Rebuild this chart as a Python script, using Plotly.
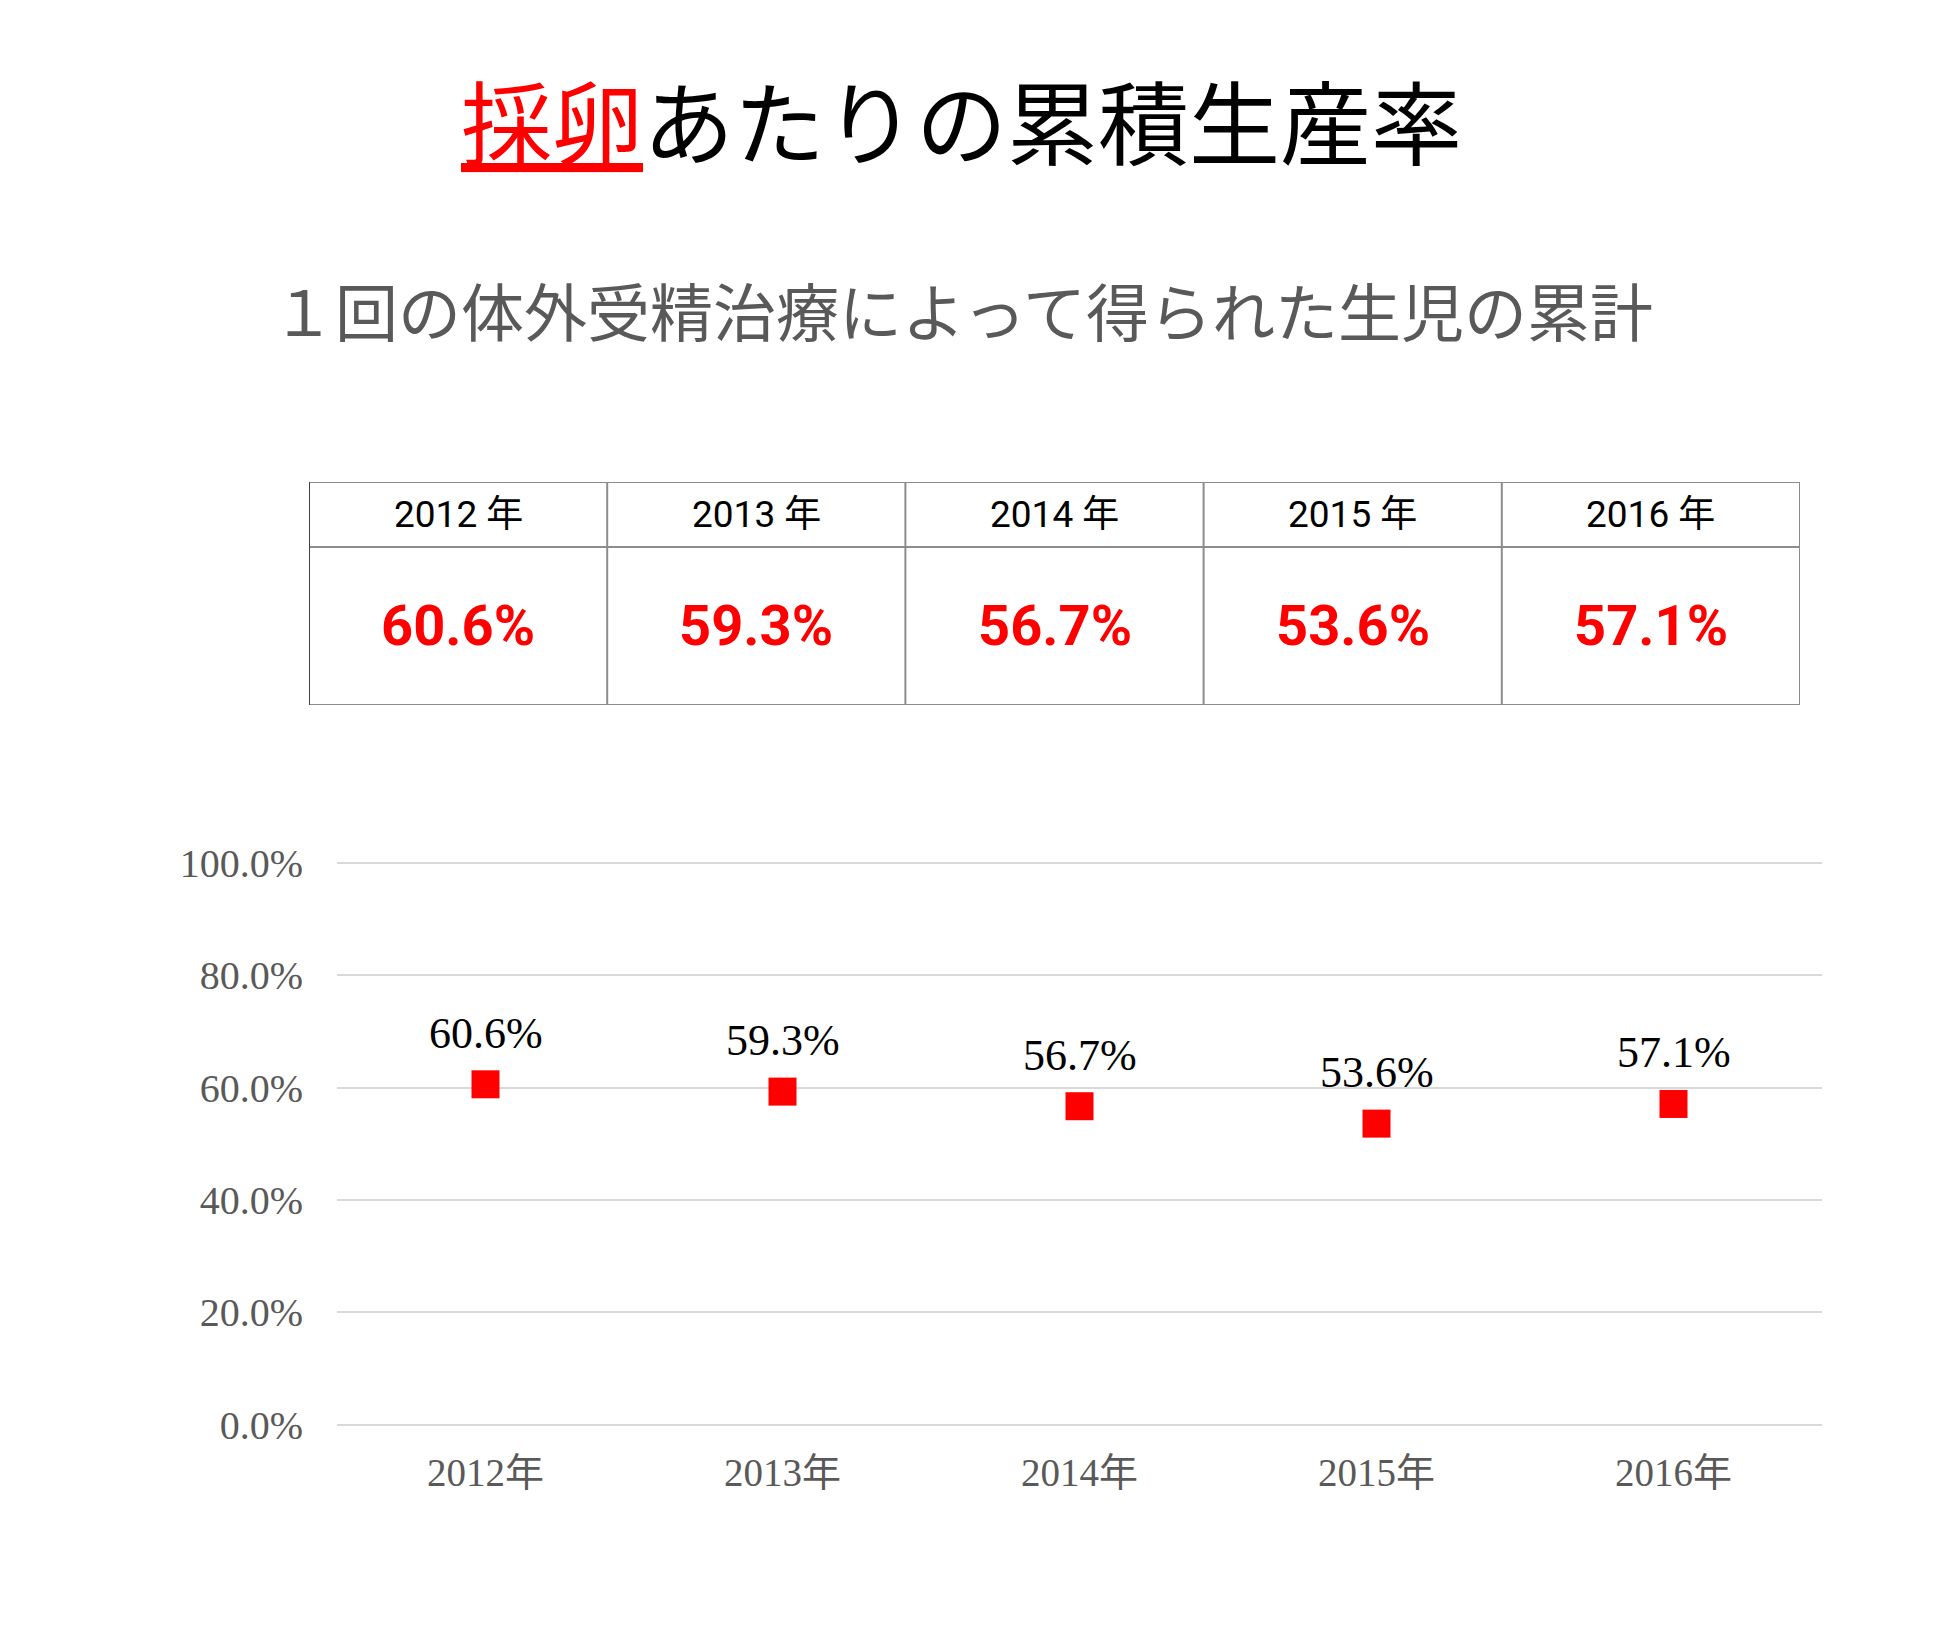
import plotly.graph_objects as go

# ---- data ----
years = ["2012年", "2013年", "2014年", "2015年", "2016年"]
table_headers = ["2012 年", "2013 年", "2014 年", "2015 年", "2016 年"]
rates = [0.606, 0.593, 0.567, 0.536, 0.571]
rate_labels = ["60.6%", "59.3%", "56.7%", "53.6%", "57.1%"]

title_red = "採卵"
title_rest = "あたりの累積生産率"
subtitle = "１回の体外受精治療によって得られた生児の累計"

W, H = 1945, 1639
SERIF = "Liberation Serif, Noto Sans CJK JP, serif"
SANS = "Roboto, Liberation Sans, Noto Sans CJK JP, sans-serif"
CJK = "Noto Sans CJK JP, sans-serif"

fig = go.Figure()

# main chart
fig.add_trace(go.Scatter(
    x=years, y=rates, mode="markers",
    marker=dict(symbol="square", size=28, color="#ff0000", line=dict(width=0)),
    xaxis="x", yaxis="y", showlegend=False, hoverinfo="x+y",
))

annotations = []
for yr, v, lab in zip(years, rates, rate_labels):
    annotations.append(dict(
        x=yr, y=v, xref="x", yref="y", text=lab, showarrow=False,
        yshift=51, yanchor="middle", xanchor="center",
        font=dict(family=SERIF, size=44, color="#000000"),
    ))

# table on helper axes
n = len(table_headers)
header_split = 0.709
shapes = []
line_style = dict(color="#8c8c8c", width=2)
shapes.append(dict(type="rect", xref="x2", yref="y2", x0=0, x1=n, y0=0, y1=1,
                   line=line_style, fillcolor="rgba(0,0,0,0)", layer="above"))
shapes.append(dict(type="line", xref="x2", yref="y2", x0=0, x1=n,
                   y0=header_split, y1=header_split, line=line_style))
for i in range(1, n):
    shapes.append(dict(type="line", xref="x2", yref="y2", x0=i, x1=i, y0=0, y1=1,
                       line=line_style))
shapes.append(dict(type="line", xref="x2", yref="y2", x0=0, x1=0, y0=0, y1=1,
                   line=dict(color="#404040", width=2)))
for i, (h, lab) in enumerate(zip(table_headers, rate_labels)):
    annotations.append(dict(
        x=i + 0.5, y=(1 + header_split) / 2, xref="x2", yref="y2", text=h,
        showarrow=False, xanchor="center", yanchor="middle",
        font=dict(family=SANS, size=37, color="#000000"),
    ))
    annotations.append(dict(
        x=i + 0.5, y=header_split / 2, xref="x2", yref="y2", text=lab,
        showarrow=False, xanchor="center", yanchor="middle",
        font=dict(family=SANS, size=56, color="#ff0000", weight="bold"),
    ))

# titles
annotations.append(dict(
    x=961 / W, y=1 - 118 / H, xref="paper", yref="paper",
    text=f'<span style="color:#ff0000"><u>{title_red}</u></span>{title_rest}',
    showarrow=False, xanchor="center", yanchor="middle",
    font=dict(family=CJK, size=91, color="#000000"),
))
annotations.append(dict(
    x=962 / W, y=1 - 309 / H, xref="paper", yref="paper",
    text=subtitle, showarrow=False, xanchor="center", yanchor="middle",
    font=dict(family=CJK, size=63, color="#595959"),
))

y_top = 1.003
px_per_unit = 561.7
fig.update_layout(
    width=W, height=H, autosize=False,
    margin=dict(l=0, r=0, t=0, b=0, pad=0, autoexpand=False),
    paper_bgcolor="white", plot_bgcolor="white",
    showlegend=False,
    xaxis=dict(
        domain=[337 / W, 1822 / W], type="category", range=[-0.5, 4.5],
        showgrid=False, zeroline=False, showline=False, ticks="",
        tickfont=dict(family=SERIF, size=39, color="#595959"),
        ticklabelstandoff=21, fixedrange=True, automargin=False,
    ),
    yaxis=dict(
        domain=[1 - 1424.7 / H, 1 - (1424.7 - y_top * px_per_unit) / H],
        range=[0, y_top],
        dtick=0.2, tick0=0, tickformat=".1%",
        showgrid=True, gridcolor="#d9d9d9", gridwidth=2,
        zeroline=True, zerolinecolor="#d9d9d9", zerolinewidth=2,
        showline=False, ticks="",
        tickfont=dict(family=SERIF, size=40, color="#595959"),
        ticklabelstandoff=33, fixedrange=True, automargin=False,
    ),
    xaxis2=dict(domain=[309 / W, 1800 / W], range=[0, n], visible=False,
                anchor="y2", fixedrange=True, automargin=False),
    yaxis2=dict(domain=[1 - 705 / H, 1 - 482 / H], range=[0, 1], visible=False,
                anchor="x2", fixedrange=True, automargin=False),
    shapes=shapes,
    annotations=annotations,
)

fig.write_html(
    "out.html",
    config={"displayModeBar": False},
    post_script="document.body.style.margin='0';document.body.style.overflow='hidden';",
)
